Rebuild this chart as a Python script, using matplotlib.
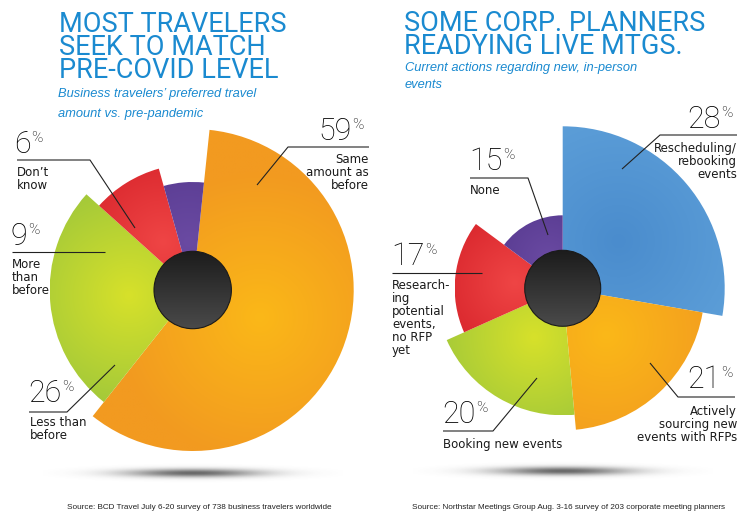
import numpy as np
import matplotlib
matplotlib.use("Agg")
import matplotlib.pyplot as plt
from matplotlib.patches import Wedge, Circle
from matplotlib.colors import to_rgb

# ---- data ----
left_values = [59, 26, 9, 6]
left_labels = ["Same\namount as\nbefore", "Less than\nbefore", "More\nthan\nbefore", "Don\u2019t\nknow"]
right_values = [28, 21, 20, 17, 15]
right_labels = ["Rescheduling/\nrebooking\nevents", "Actively\nsourcing new\nevents with RFPs",
                "Booking new events", "Research-\ning\npotential\nevents,\nno RFP\nyet", "None"]

left_title = ["MOST TRAVELERS", "SEEK TO MATCH", "PRE-COVID LEVEL"]
left_sub = ["Business travelers\u2019 preferred travel", "amount vs. pre-pandemic"]
right_title = ["SOME CORP. PLANNERS", "READYING LIVE MTGS."]
right_sub = ["Current actions regarding new, in-person", "events"]
left_source = "Source: BCD Travel July 6-20 survey of 738 business travelers worldwide"
right_source = "Source: Northstar Meetings Group Aug. 3-16 survey of 203 corporate meeting planners"

# ---- style ----
BLUE_TXT = "#1a8ad0"
ORANGE = ("#fbb818", "#f29a20")
GREEN = ("#d7e12a", "#9bc53c")
RED = ("#ef4545", "#d41f27")
PURPLE = ("#6a4aa2", "#56398f")
SKY = ("#4a8ccd", "#5ea0d9")
left_colors = [ORANGE, GREEN, RED, PURPLE]
right_colors = [SKY, ORANGE, GREEN, RED, PURPLE]
left_radii = [161, 143, 126, 108]
right_radii = [162, 142, 127, 108, 73]

NUMFONT = ["Roboto", "DejaVu Sans"]
SUBFONT = ["Liberation Sans", "DejaVu Sans"]

fig = plt.figure(figsize=(7.5, 5.23), dpi=100)
ax = fig.add_axes([0, 0, 1, 1])
ax.set_axis_off()


def grad_wedge(cx, cy, r, b1, b2, cols):
    w = Wedge((cx, cy), r, b1 - 90, b2 - 90, facecolor="none", edgecolor="none")
    ax.add_patch(w)
    bm = np.radians((b1 + b2) / 2)
    hx = cx + 0.45 * r * np.sin(bm)
    hy = cy - 0.45 * r * np.cos(bm)
    xs = np.linspace(cx - r, cx + r, 300)
    ys = np.linspace(cy - r, cy + r, 300)
    X, Y = np.meshgrid(xs, ys)
    d = np.clip(np.hypot(X - hx, Y - hy) / (0.9 * r), 0, 1)[..., None]
    c0 = np.array(to_rgb(cols[0]))
    c1 = np.array(to_rgb(cols[1]))
    img = c0 * (1 - d) + c1 * d
    im = ax.imshow(img, extent=(cx - r, cx + r, cy - r, cy + r), origin="lower",
                   interpolation="bilinear", zorder=2)
    im.set_clip_path(w)


def center_disc(cx, cy, r):
    c = Circle((cx, cy), r, facecolor="none", edgecolor="#1a1a1a", lw=0.8, zorder=4)
    ax.add_patch(c)
    xs = np.linspace(cx - r, cx + r, 100)
    ys = np.linspace(cy - r, cy + r, 100)
    X, Y = np.meshgrid(xs, ys)
    t = np.clip((Y - (cy - r)) / (2 * r), 0, 1)[..., None]
    img = np.array(to_rgb("#1c1c1c")) * (1 - t) + np.array(to_rgb("#4a4a4a")) * t
    im = ax.imshow(img, extent=(cx - r, cx + r, cy - r, cy + r), origin="lower",
                   interpolation="bilinear", zorder=3)
    im.set_clip_path(c)


def shadow(cx, cy, w, h):
    xs = np.linspace(-1, 1, 300)
    ys = np.linspace(-1, 1, 60)
    X, Y = np.meshgrid(xs, ys)
    a = 0.85 * np.exp(-(X / 0.45) ** 2 - (Y / 0.28) ** 2)
    img = np.zeros((60, 300, 4))
    img[..., :3] = 0.3
    img[..., 3] = a
    ax.imshow(img, extent=(cx - w / 2, cx + w / 2, cy - h / 2, cy + h / 2), origin="lower",
              interpolation="bilinear", zorder=1)


def rose(cx, cy, values, radii, colors, start, disc_r):
    total = float(sum(values))
    b = start
    for v, r, c in zip(values, radii, colors):
        span = v / total * 360.0
        grad_wedge(cx, cy, r, b, b + span, c)
        b += span
    center_disc(cx, cy, disc_r)
    shadow(cx, cy + 183, 300, 30)


def callout(value, label, num_xy, ha, line, text_xy):
    nx, ny = num_xy
    t = ax.text(nx, ny, str(value), fontsize=22, family=NUMFONT, fontweight="light",
                color="#000000", ha=ha, va="baseline", zorder=6)
    ax.annotate("%", xy=(1, 1), xycoords=t, xytext=(0.3, -0.5), textcoords="offset points",
                fontsize=11, family=NUMFONT, fontweight="light", color="#000000",
                ha="left", va="top", zorder=6)
    xs = [p[0] for p in line]
    ys = [p[1] for p in line]
    ax.plot(xs, ys, color="#222222", lw=0.8, zorder=5, solid_capstyle="butt")
    tx, ty = text_xy
    ax.text(tx, ty, label, fontsize=8.5, color="#1a1a1a", ha=ha,
            va="top", linespacing=1.0, zorder=6)


# left chart
rose(192.7, 290, left_values, left_radii, left_colors, 6, 38.7)
# right chart
rose(562.7, 288.3, right_values, right_radii, right_colors, 0, 38)

# callouts, left
callout(left_values[0], left_labels[0], (352, 140), "right", [(369, 147), (288, 147), (257, 185)], (369, 153))
callout(left_values[3], left_labels[3], (14, 153), "left", [(17, 160), (90, 160), (135, 228)], (17, 166))
callout(left_values[2], left_labels[2], (11, 245), "left", [(12, 252), (105, 252)], (12, 258))
callout(left_values[1], left_labels[1], (28, 402), "left", [(29, 412), (67, 412), (115, 365)], (30, 416))
# callouts, right
callout(right_values[0], right_labels[0], (721, 128), "right", [(737, 135), (660, 135), (622, 169)], (737, 142))
callout(right_values[4], right_labels[4], (469, 170), "left", [(470, 178), (528, 178), (548, 235)], (470, 184))
callout(right_values[3], right_labels[3], (391, 265), "left", [(392, 273), (482, 273)], (392, 279))
callout(right_values[2], right_labels[2], (442, 423), "left", [(443, 431), (493, 431), (537, 378)], (443, 438))
callout(right_values[1], right_labels[1], (721, 388), "right", [(735, 397), (678, 397), (650, 363)], (737, 405))

# titles (va='baseline' on multi-line text anchors the last line)
ax.text(59, 78, "\n".join(left_title), fontsize=19.5, family=NUMFONT, fontweight="normal",
        color=BLUE_TXT, va="baseline", ha="left", linespacing=0.82)
ax.text(404, 54, "\n".join(right_title), fontsize=19.5, family=NUMFONT, fontweight="normal",
        color=BLUE_TXT, va="baseline", ha="left", linespacing=0.82)
for i, line in enumerate(left_sub):
    ax.text(58, 97.5 + i * 19, line, fontsize=9.3, family=SUBFONT, style="italic",
            color=BLUE_TXT, va="baseline", ha="left")
for i, line in enumerate(right_sub):
    ax.text(405, 70.5 + i * 18, line, fontsize=9.3, family=SUBFONT, style="italic",
            color=BLUE_TXT, va="baseline", ha="left")

ax.text(199, 509, left_source, fontsize=5.9, family=SUBFONT, color="#222222", ha="center", va="baseline")
ax.text(569, 509, right_source, fontsize=5.9, family=SUBFONT, color="#222222", ha="center", va="baseline")

ax.set_xlim(0, 750)
ax.set_ylim(523, 0)
ax.set_aspect("auto")

fig.savefig("out.png", dpi=100, facecolor="white")
